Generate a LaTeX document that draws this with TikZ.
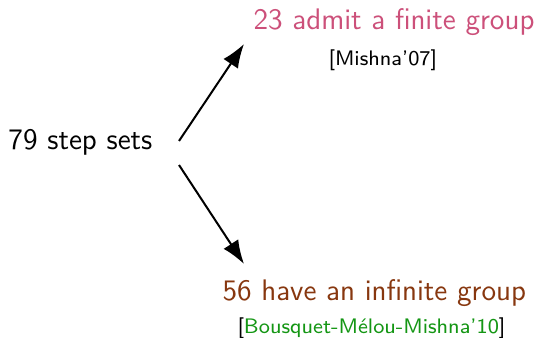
\documentclass[tikz,border=0pt]{standalone}
\usepackage{tikz}
\usetikzlibrary{arrows.meta,positioning}

\definecolor{finitepink}{RGB}{204,80,122}
\definecolor{infbrown}{RGB}{135,55,15}
\definecolor{refgreen}{RGB}{20,150,20}

\begin{document}
\begin{tikzpicture}[x=0.4pt,y=-0.4pt,
    every node/.style={inner sep=0pt, font=\sffamily},
    maintext/.style={anchor=base west, font=\sffamily\fontsize{11.9}{14}\selectfont},
    reftext/.style={anchor=base west, font=\sffamily\fontsize{8.4}{10}\selectfont},
    split/.style={-{Latex[length=9.5pt,width=7pt]}, line width=0.8pt}]
    \useasboundingbox (0,0) rectangle (537,338);

    % Source
    \node[maintext] (steps) at (8,150) {79 step sets};

    % Finite case
    \node[maintext, text=finitepink] (finite) at (253,30) {23 admit a finite group};
    \node[reftext] (mishna) at (328,66) {[Mishna'07]};

    % Infinite case
    \node[maintext, text=infbrown] (infinite) at (222,300) {56 have an infinite group};
    \node[reftext] (bmm) at (237,333) {[\textcolor{refgreen}{Bousquet-M\'elou-Mishna'10}]};

    % Arrows
    \coordinate (up-start) at (179,141);
    \coordinate (up-end) at (244,44);
    \coordinate (down-start) at (179,165);
    \coordinate (down-end) at (244,264);
    \draw[split] (up-start) -- (up-end);
    \draw[split] (down-start) -- (down-end);
\end{tikzpicture}
\end{document}
